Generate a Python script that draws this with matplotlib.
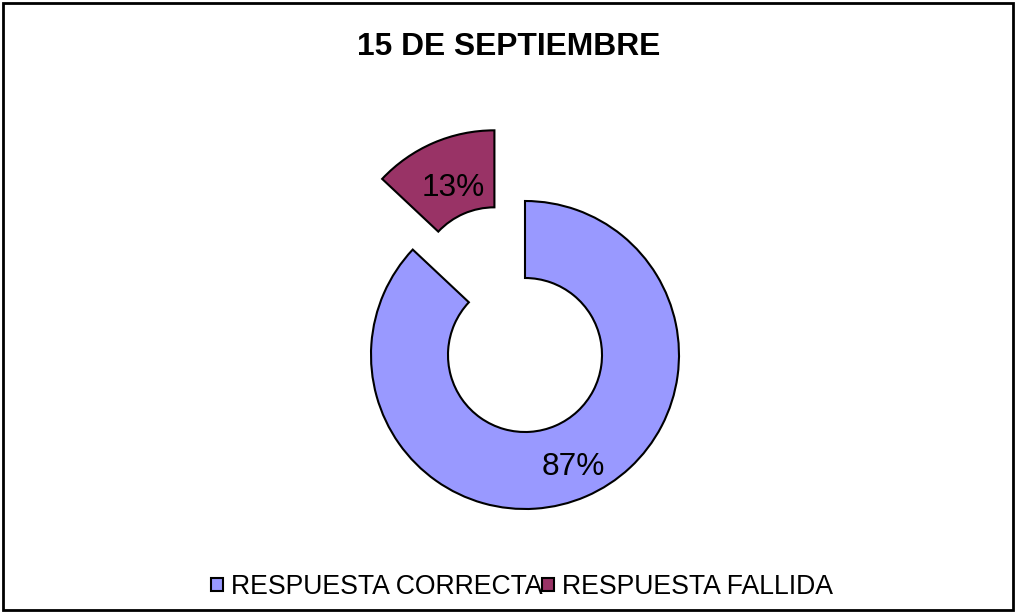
import numpy as np
import matplotlib.pyplot as plt
from matplotlib.patches import Rectangle

plt.rcParams['font.family'] = ['Liberation Sans', 'DejaVu Sans']

# Datos del gráfico
categorias = ['RESPUESTA CORRECTA', 'RESPUESTA FALLIDA']
porcentajes = [87, 13]
colores = ['#9999FF', '#993366']
separacion = [0, 77]  # desplazamiento en unidades de datos
dist_etiqueta = [0.79, 0.68]  # fracción del radio

fig = plt.figure(figsize=(10.16, 6.13), dpi=100)
ax = fig.add_axes([0, 0, 1, 1])

# Anillo (dona) con la porción fallida separada
wedges, texts, autotexts = ax.pie(
    porcentajes, colors=colores, explode=separacion,
    center=(525, 258), radius=154, startangle=90, counterclock=False,
    autopct='%d%%',
    wedgeprops=dict(width=77, edgecolor='black', linewidth=1.5),
    textprops=dict(fontsize=22.8, color='black'),
    frame=True)

# Recolocar los porcentajes dentro de cada porción
for w, t, d in zip(wedges, autotexts, dist_etiqueta):
    ang = np.deg2rad((w.theta1 + w.theta2) / 2)
    cx, cy = w.center
    t.set_position((cx + d * w.r * np.cos(ang), cy + d * w.r * np.sin(ang)))

ax.set_xlim(0, 1016)
ax.set_ylim(0, 613)
ax.set_aspect('equal')
ax.axis('off')

ax.text(509, 566, '15 DE SEPTIEMBRE', ha='center', va='center',
        fontsize=22.9, fontweight='bold')

leg = ax.legend(wedges, categorias, loc='center', bbox_to_anchor=(522, 26),
                bbox_transform=ax.transData, ncol=2, frameon=False,
                fontsize=19.2, handlelength=0.42, handleheight=0.42,
                handletextpad=0.3, columnspacing=0.0)

# Marco exterior
ax.add_patch(Rectangle((3, 3), 1010, 607, fill=False, edgecolor='black',
                       linewidth=2, clip_on=False))

plt.savefig('out.png', dpi=100)
